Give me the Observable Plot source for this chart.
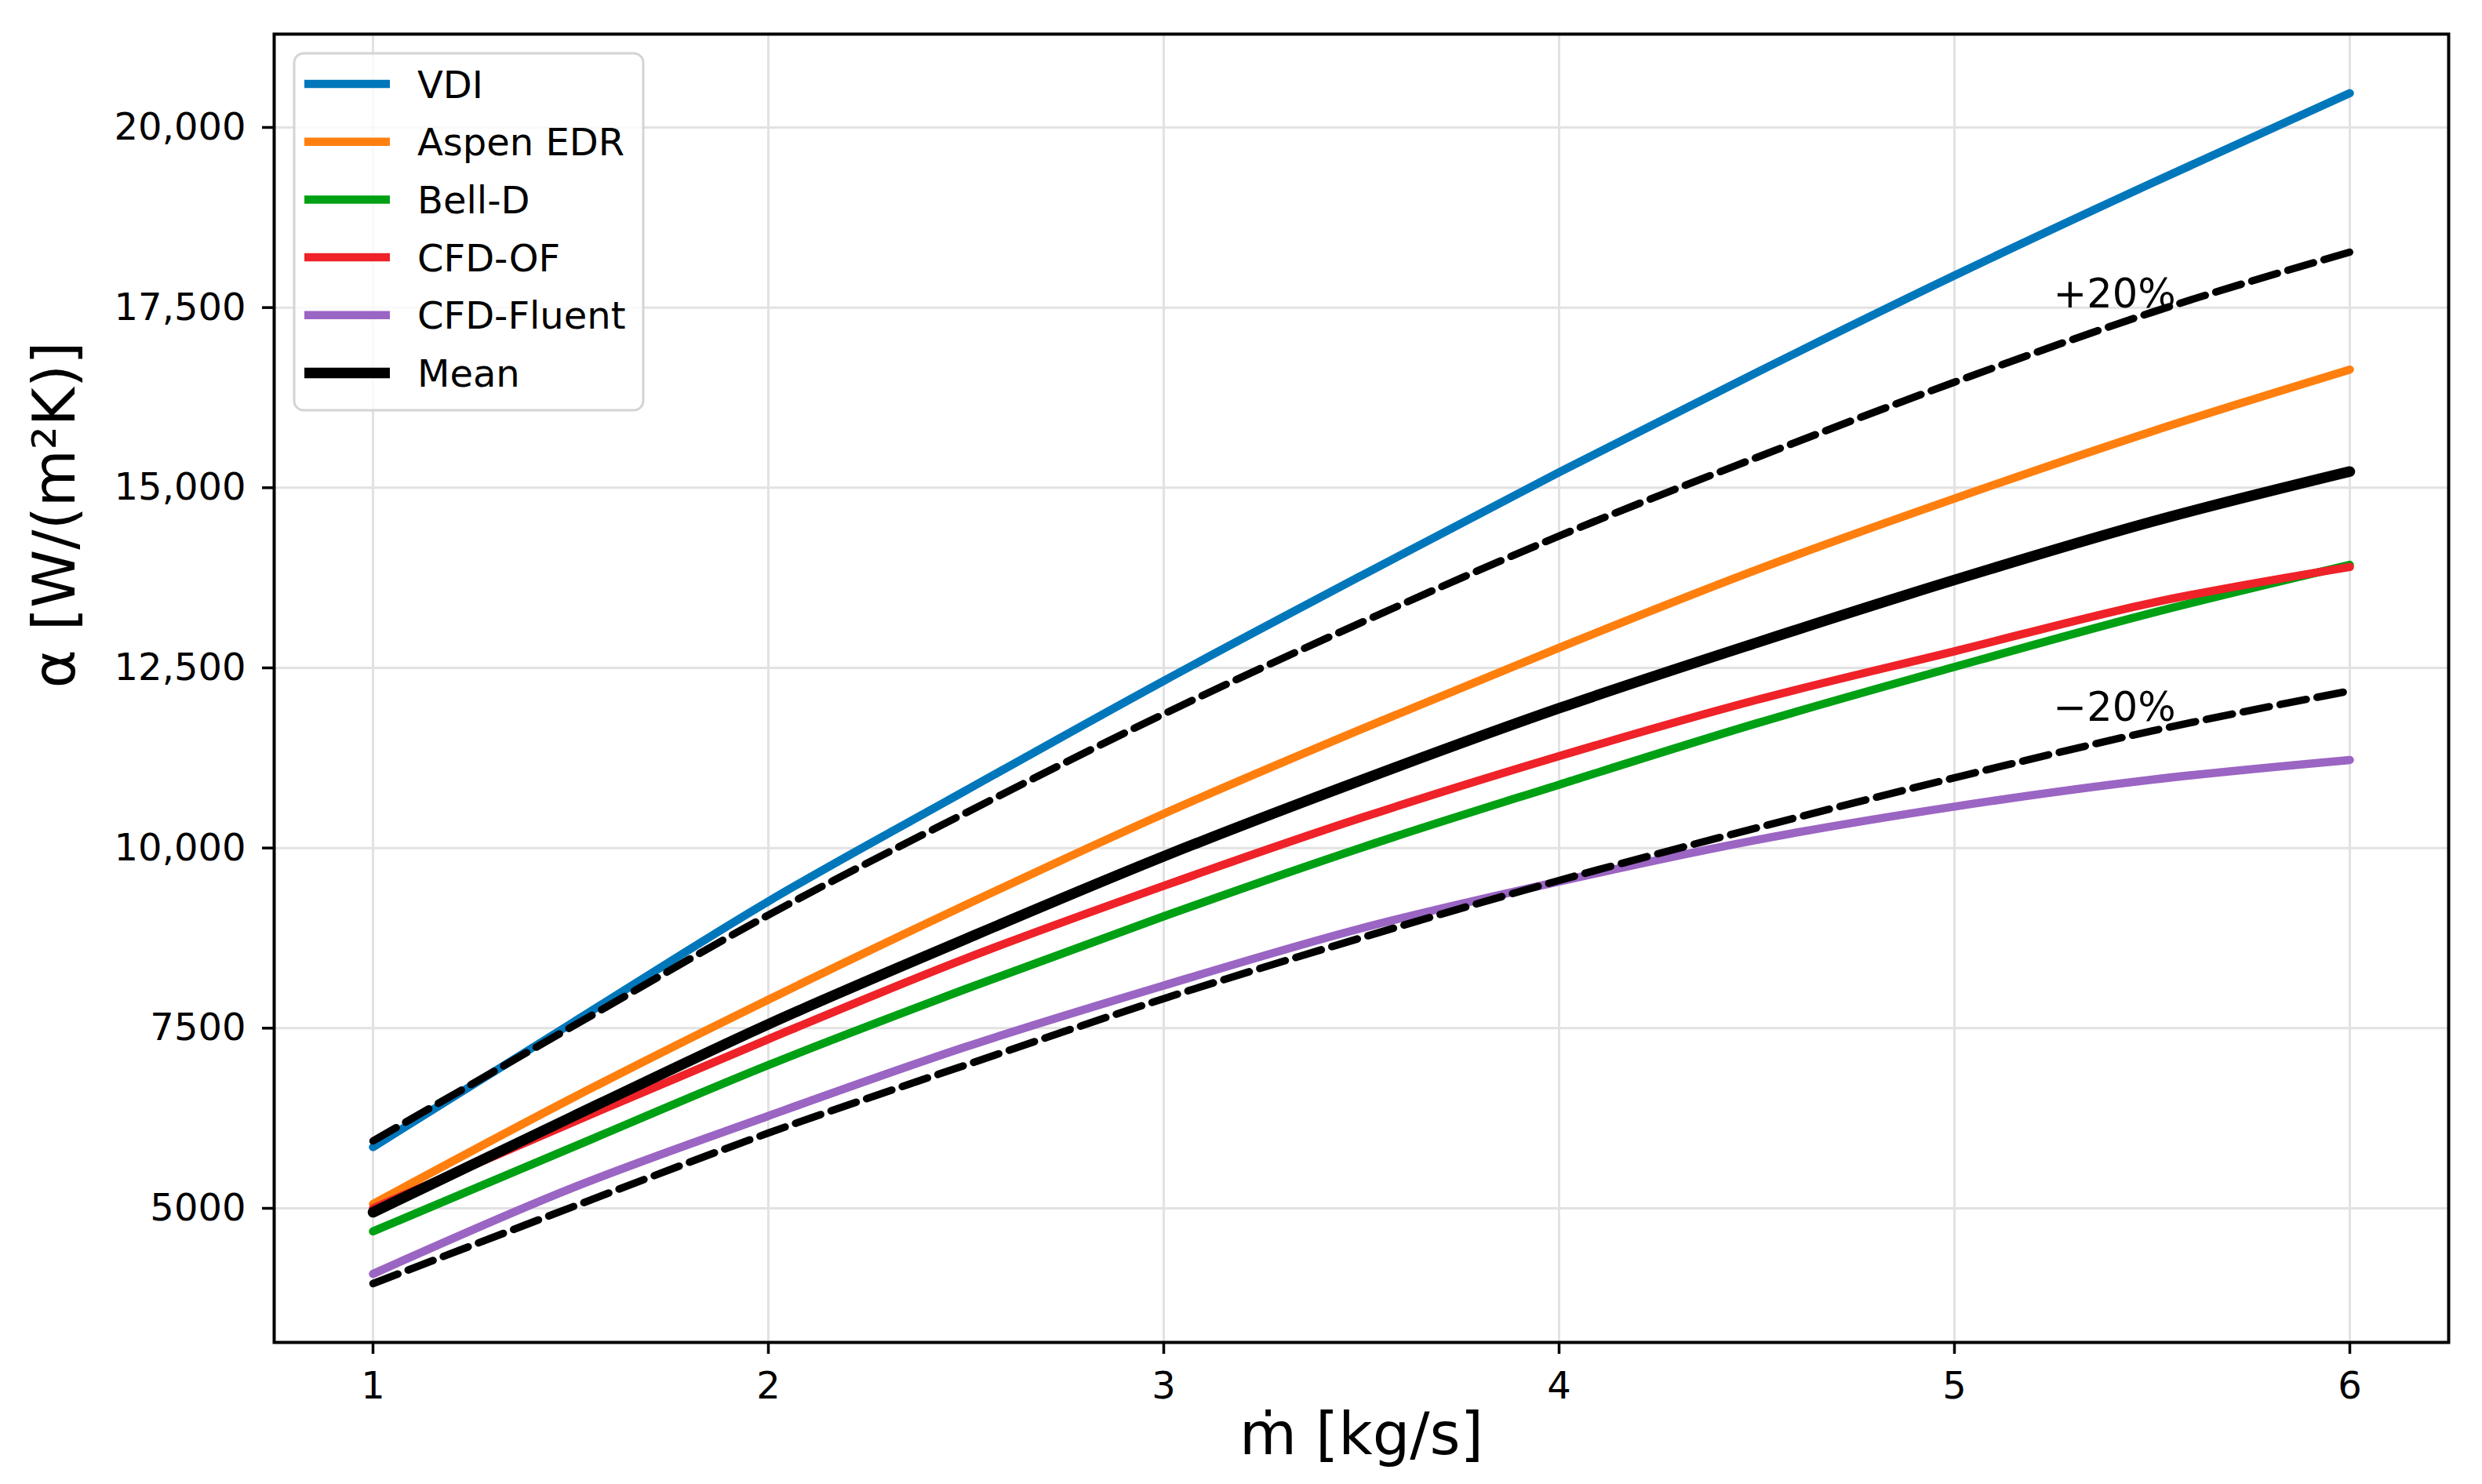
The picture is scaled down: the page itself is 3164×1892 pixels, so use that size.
<!DOCTYPE html>
<html><head><meta charset="utf-8">
<script src="https://cdn.jsdelivr.net/npm/d3@7"></script>
<script src="https://cdn.jsdelivr.net/npm/@observablehq/plot@0.6"></script>
<style>
html,body{margin:0;padding:0;background:#fff;}
#chart{width:3164px;height:1892px;}
</style></head><body><div id="chart"></div>
<script>
// ---- data ----
const massFlow = [1, 1.5, 2, 2.5, 3, 3.5, 4, 4.5, 5, 5.5, 6];
const vdi      = [5850, 7560, 9260, 10800, 12320, 13780, 15215, 16600, 17945, 19230, 20475];
const aspenEdr = [5060, 6519, 7895, 9212, 10476, 11650, 12780, 13862, 14850, 15783, 16640];
const bellD    = [4680, 5837, 6988, 8045, 9052, 10005, 10879, 11731, 12513, 13263, 13930];
const cfdOf    = [5000, 6183, 7348, 8468, 9475, 10420, 11275, 12056, 12731, 13403, 13900];
const cfdFluent= [4090, 5274, 6282, 7242, 8092, 8886, 9535, 10113, 10575, 10949, 11222];
const meanVals = [4945, 6260, 7555, 8740, 9885, 10942, 11940, 12850, 13720, 14530, 15225];
const upper20  = [5935, 7510, 9070, 10490, 11860, 13130, 14330, 15420, 16465, 17435, 18270];
const lower20  = [3955, 5010, 6045, 6990, 7910, 8755, 9550, 10280, 10975, 11625, 12180];

const seriesNames  = ["VDI", "Aspen EDR", "Bell-D", "CFD-OF", "CFD-Fluent", "Mean"];
const seriesColors = ["#0077BB", "#FF7F0E", "#00A014", "#EE2228", "#9B65C3", "#000000"];
const xTicks = [1, 2, 3, 4, 5, 6];
const yTicks = [5000, 7500, 10000, 12500, 15000, 17500, 20000];
const yTickLabels = ["5000", "7500", "10,000", "12,500", "15,000", "17,500", "20,000"];
const bandLabels = ["+20%", "\u221220%"];
const bandLabelX = [5.25, 5.25];
const bandLabelY = [17500, 11760];
const xLabel = "\u1E41 [kg/s]";
const yLabel = "\u03B1 [W/(m\u00B2K)]";

const seriesValues = [vdi, aspenEdr, bellD, cfdOf, cfdFluent];
const rows = [];
seriesValues.forEach((arr, i) => arr.forEach((v, j) => rows.push({series: seriesNames[i], x: massFlow[j], y: v})));
const meanRows = meanVals.map((v, j) => ({x: massFlow[j], y: v}));
const upperRows = upper20.map((v, j) => ({x: massFlow[j], y: v}));
const lowerRows = lower20.map((v, j) => ({x: massFlow[j], y: v}));
const bandRows = bandLabels.map((t, i) => ({t, x: bandLabelX[i], y: bandLabelY[i]}));

const plot = Plot.plot({
  width: 3164,
  height: 1892,
  marginLeft: 349,
  marginRight: 43,
  marginTop: 43,
  marginBottom: 181,
  style: {fontFamily: "DejaVu Sans", background: "white", color: "black"},
  x: {domain: [0.75, 6.25]},
  y: {domain: [3139, 21295]},
  color: {domain: seriesNames, range: seriesColors},
  marks: [
    Plot.gridX(xTicks, {stroke: "#e2e2e2", strokeOpacity: 1, strokeWidth: 3}),
    Plot.gridY(yTicks, {stroke: "#e2e2e2", strokeOpacity: 1, strokeWidth: 3}),
    Plot.line(rows, {x: "x", y: "y", z: "series", stroke: "series", strokeWidth: 10.5, curve: "monotone-x"}),
    Plot.line(meanRows, {x: "x", y: "y", stroke: "black", strokeWidth: 13.5, curve: "monotone-x"}),
    Plot.line(upperRows, {x: "x", y: "y", stroke: "black", strokeWidth: 9.5, strokeDasharray: "34,14", curve: "monotone-x"}),
    Plot.line(lowerRows, {x: "x", y: "y", stroke: "black", strokeWidth: 9.5, strokeDasharray: "34,14", curve: "monotone-x"}),
    Plot.text(bandRows, {x: "x", y: "y", text: "t", textAnchor: "start", lineAnchor: "bottom", fontSize: 51, fill: "black"}),
    Plot.frame({stroke: "black", strokeWidth: 4}),
    Plot.axisX(xTicks, {tickSize: 15, tickPadding: 22, fontSize: 48, strokeWidth: 3.5, label: null, tickFormat: d => String(d)}),
    Plot.axisY(yTicks, {tickSize: 15, tickPadding: 21, fontSize: 48, strokeWidth: 3.5, label: null, tickFormat: d => yTickLabels[yTicks.indexOf(d)]}),
    Plot.text([xLabel], {frameAnchor: "bottom", lineAnchor: "bottom", dy: 142, fontSize: 75, fill: "black"}),
    Plot.text([yLabel], {frameAnchor: "left", lineAnchor: "middle", rotate: -90, dx: -279, fontSize: 75, fill: "black"})
  ]
});

// legend inside the plot area (upper left)
const svg = d3.select(plot);
const g = svg.append("g").attr("font-family", "DejaVu Sans").attr("text-anchor", "start");
g.append("rect").attr("x", 375).attr("y", 68).attr("width", 445).attr("height", 455)
  .attr("rx", 12).attr("fill", "white").attr("fill-opacity", 0.8)
  .attr("stroke", "#d4d4d4").attr("stroke-width", 3);
seriesNames.forEach((name, i) => {
  const y = 107 + i * 73.7;
  g.append("line").attr("x1", 388).attr("x2", 497).attr("y1", y).attr("y2", y)
    .attr("stroke", seriesColors[i]).attr("stroke-width", i === 5 ? 13.5 : 10.5);
  g.append("text").attr("x", 532).attr("y", y).attr("dy", "0.365em")
    .attr("text-anchor", "start").attr("font-size", 48).attr("fill", "black").text(name);
});

document.getElementById("chart").appendChild(plot);
</script>
</body></html>
